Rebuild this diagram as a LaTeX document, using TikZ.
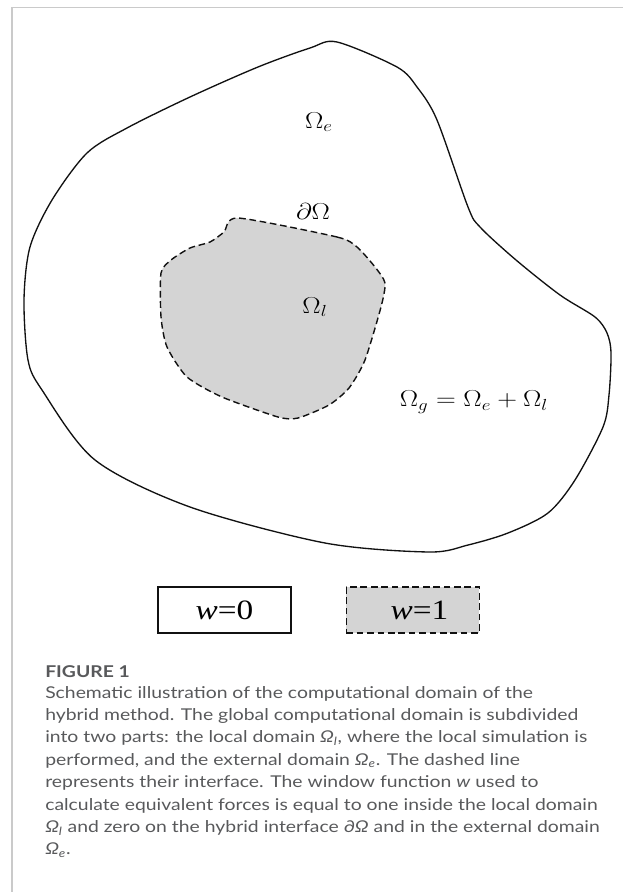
\documentclass[tikz,border=0pt]{standalone}
\usepackage{fontspec}
\usepackage{graphicx}
\newfontfamily\capfont[FakeStretch=1.19]{Lato}
\newfontfamily\legendfont[FakeStretch=1.19]{Liberation Serif}
\usetikzlibrary{positioning}
\definecolor{ink}{HTML}{111111}
\definecolor{localfill}{HTML}{D4D4D4}
\definecolor{framegray}{HTML}{CACACA}
\definecolor{capgray}{HTML}{58595B}
\newcommand\widemath[1]{\scalebox{1.19}[1]{#1}}
\tikzset{
  boundary/.style={draw=ink,line width=1pt},
  interface/.style={draw=ink,line width=1.05pt,dash pattern=on 5pt off 2.8pt},
  domlabel/.style={font=\fontsize{17.8}{21}\selectfont,inner sep=0pt},
  legendbox/.style={draw=ink,line width=.9pt,minimum width=99.75pt,minimum height=34.5pt,
    inner sep=0pt,font=\legendfont\fontsize{21}{24}\selectfont},
  captext/.style={font=\capfont\fontsize{12.2}{17}\selectfont,text=capgray,inner sep=0pt,anchor=base west}}

\begin{document}
\begin{tikzpicture}[x=0.75pt,y=-0.75pt]
\useasboundingbox (0,0) rectangle (623,892);
\draw[framegray,line width=1pt] (12,892) -- (12,7.5) -- (623,7.5);
\draw[boundary] plot[smooth cycle,tension=.5] coordinates {
  (337,42) (397,67) (417,87) (437,120) (468,207) (480,227) (516,260)
  (560,295) (595,317) (607,333) (611,353) (609,395) (603,427) (575,480)
  (548,513) (508,533) (468,545) (429,552) (325,543) (190,507) (95,460)
  (42,390) (28,360) (24,300) (30,247) (52,200) (87,153)
  (127,128) (190,97) (258,67) (310,48)};
\draw[interface,fill=localfill] plot[smooth cycle,tension=.4] coordinates {
  (238,218) (337,237) (357,247) (375,267) (385,283) (381,307) (365,360)
  (349,388) (329,405) (298,418) (278,417) (222,397) (187,377) (167,347)
  (161,317) (161,273) (171,260) (190,248) (210,242) (224,232)};
\node[domlabel] (extlabel) at (319,122) {\widemath{$\Omega_e$}};
\node[domlabel] (ifacelabel) at (313,211) {\widemath{$\partial\Omega$}};
\node[domlabel] (loclabel) at (315,307) {\widemath{$\Omega_l$}};
\node[domlabel] (sumlabel) at (474,402) {\widemath{$\Omega_g=\Omega_e+\Omega_l$}};
\node[legendbox] (wzero) at (224.5,610) {\textit{w}=0};
\node[legendbox,interface,fill=localfill,right=40.5pt of wzero] (wone) {\hspace*{10pt}\textit{w}=1};
\node[captext,font=\capfont\bfseries\fontsize{12.2}{17}\selectfont] (figlabel) at (45,677) {FIGURE 1};
\foreach \txt [count=\i] in {
  {Schematic illustration of the computational domain of the},
  {hybrid method. The global computational domain is subdivided},
  {into two parts: the local domain \textit{Ω}\textsubscript{\textit{l}}, where the local simulation is},
  {performed, and the external domain \textit{Ω}\textsubscript{\textit{e}}. The dashed line},
  {represents their interface. The window function \textit{w} used to},
  {calculate equivalent forces is equal to one inside the local domain},
  {\textit{Ω}\textsubscript{\textit{l}} and zero on the hybrid interface ∂\textit{Ω} and in the external domain},
  {\textit{Ω}\textsubscript{\textit{e}}.}}
  \node[captext] (cap\i) at (45,{698+(\i-1)*22.4}) {\txt};
\end{tikzpicture}
\end{document}
